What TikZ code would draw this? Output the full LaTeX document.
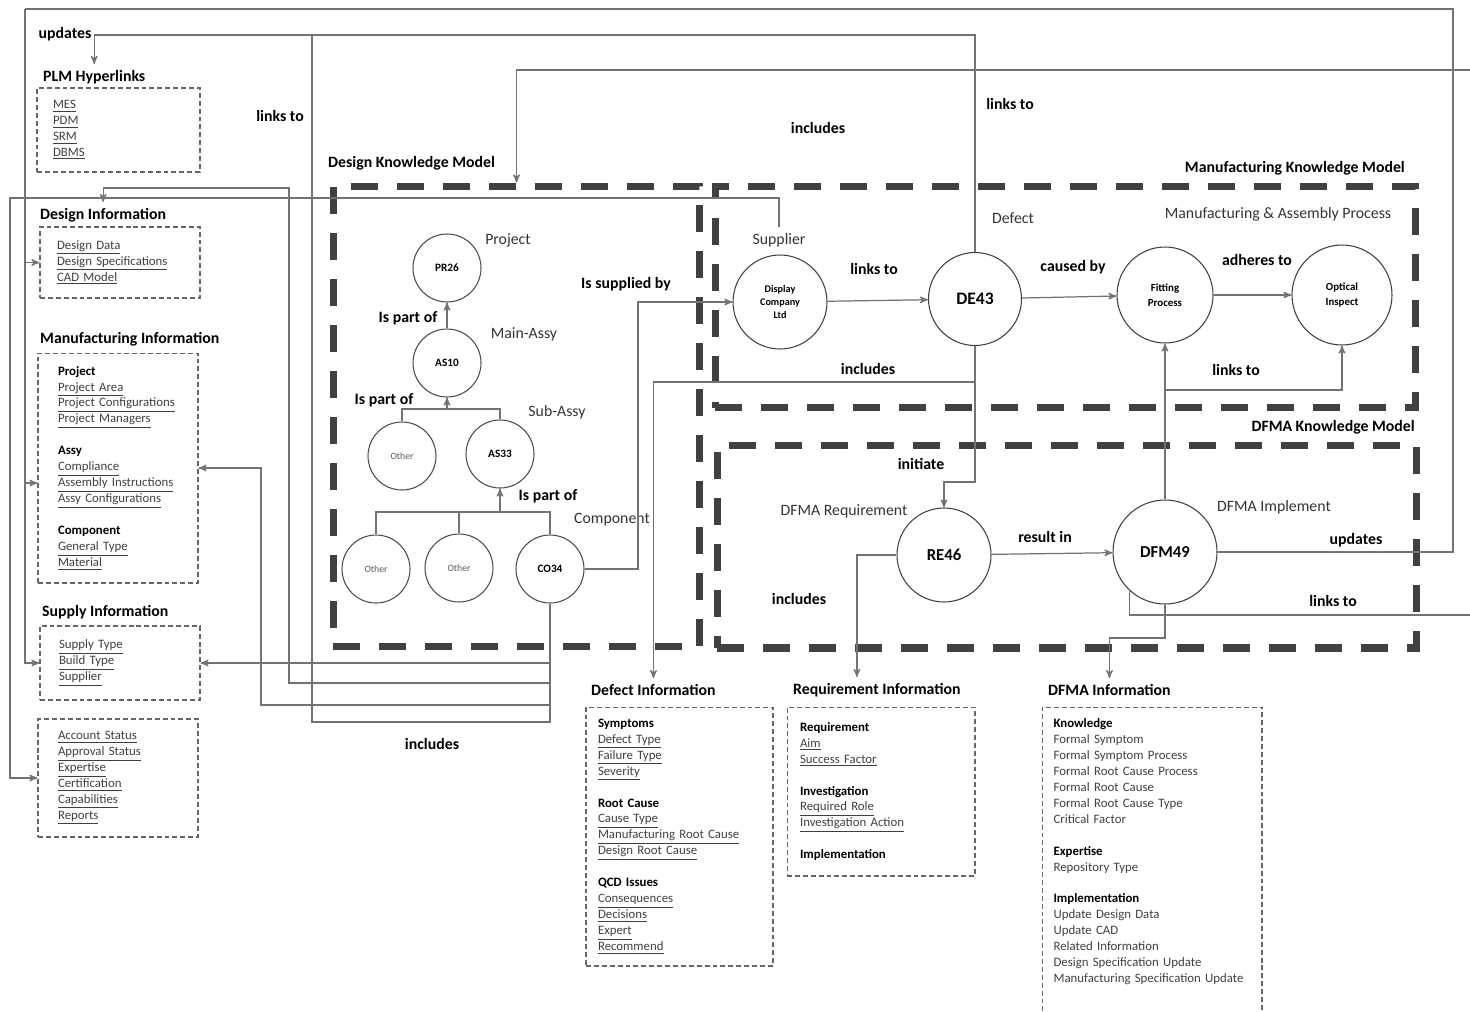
\documentclass[tikz,border=0pt]{standalone}
\usepackage{fontspec}
\setmainfont{Carlito}
\usetikzlibrary{arrows}

\newcommand{\lk}[1]{\underline{#1}}
\newcommand{\grp}[1]{\textcolor{black}{\textbf{#1}}}

\begin{document}
\begin{tikzpicture}[x=0.02cm,y=-0.02cm,>=stealth',
    link/.style={draw=black!55,line width=0.7pt},
    rel/.style={font=\fontsize{9}{11}\selectfont\bfseries},
    kind/.style={font=\fontsize{9}{11}\selectfont,text=black!80},
    hdr/.style={font=\fontsize{9}{11}\selectfont\bfseries},
    partc/.style={circle,draw=black!70,line width=0.6pt,inner sep=0pt,minimum size=1.36cm,font=\fontsize{6.4}{7}\selectfont\bfseries},
    othc/.style={partc,font=\fontsize{5.5}{7}\selectfont,text=black!65},
    proc/.style={circle,draw=black!75,line width=0.6pt,inner sep=0pt,align=center,minimum size=1.88cm},
    model/.style={draw=black!75,line width=4pt,dash pattern=on 0.54cm off 0.38cm,inner sep=0pt},
    info/.style={draw=black!60,line width=0.6pt,dash pattern=on 2.8pt off 1.7pt,align=left,inner ysep=0pt,
        font=\fontsize{7.3}{9.07}\selectfont,text=black!75}]

\useasboundingbox (0,0) rectangle (1470,1011);

% knowledge models
\node[model,minimum width=7.34cm,minimum height=9.22cm] (dkm) at (516.5,416.5) {};
\node[model,minimum width=14.02cm,minimum height=4.44cm] (mkm) at (1065.5,297) {};
\node[model,minimum width=14cm,minimum height=4.06cm] (dfkm) at (1067,546.5) {};
\node[hdr,anchor=west] (dkmt) at (322,163) {Design Knowledge Model};
\node[hdr,anchor=east] (mkmt) at (1411,168) {Manufacturing Knowledge Model};
\node[hdr,anchor=east] (dfkmt) at (1421,427) {DFMA Knowledge Model};

% product tree
\node[partc] (pr26) at (447,268) {PR26};
\node[partc] (as10) at (447,363) {AS10};
\node[othc] (oth1) at (402,456) {Other};
\node[partc] (as33) at (500,454) {AS33};
\node[othc] (oth2) at (376,569) {Other};
\node[othc] (oth3) at (459,568) {Other};
\node[partc] (co34) at (550,569) {CO34};

\node[kind] (kproj) at (508,240) {Project};
\node[kind] (kmain) at (524,334) {Main-Assy};
\node[kind] (ksub) at (557,412) {Sub-Assy};
\node[kind] (kcomp) at (612,520) {Component};

% manufacturing and dfma units
\node[proc,font=\fontsize{5.8}{7.5}\selectfont\bfseries] (disp) at (780,302) {Display\\Company\\Ltd};
\node[proc,minimum size=1.86cm,font=\fontsize{10}{12}\selectfont\bfseries] (de43) at (975,299) {DE43};
\node[proc,minimum size=1.92cm,font=\fontsize{6.2}{8.5}\selectfont\bfseries] (fit) at (1165,295) {Fitting\\Process};
\node[proc,minimum size=2cm,font=\fontsize{6.2}{8.5}\selectfont\bfseries] (opt) at (1342,295) {Optical\\Inspect};
\node[proc,font=\fontsize{9.5}{11}\selectfont\bfseries] (re46) at (944,555) {RE46};
\node[proc,minimum size=2.08cm,font=\fontsize{9.5}{11}\selectfont\bfseries] (dfm49) at (1165,552) {DFM49};

\node[kind] (ksup) at (779,240) {Supplier};
\node[kind] (kdef) at (1013,218) {Defect};
\node[kind] (kmap) at (1278,214) {Manufacturing \& Assembly Process};
\node[kind] (kreq) at (844,511) {DFMA Requirement};
\node[kind] (kimp) at (1274,507) {DFMA Implement};

% information boxes
\node[hdr,anchor=west] (plmt) at (37,77) {PLM Hyperlinks};
\node[info,text width=2.62cm,inner xsep=0.32cm,minimum height=1.68cm] (plm) at (118.5,130)
    {\lk{MES}\\\lk{PDM}\\\lk{SRM}\\\lk{DBMS}};

\node[hdr,anchor=west] (desint) at (34,215) {Design Information};
\node[info,text width=2.52cm,inner xsep=0.34cm,minimum height=1.42cm] (desinf) at (120,262.5)
    {\lk{Design Data}\\\lk{Design Specifications}\\\lk{CAD Model}};

\node[hdr,anchor=west] (mfgint) at (34,339) {Manufacturing Information};
\node[info,text width=2.4cm,inner xsep=0.4cm,minimum height=4.6cm] (mfginf) at (118,468)
    {\grp{Project}\\\lk{Project Area}\\\lk{Project Configurations}\\\lk{Project Managers}\\[9.07pt]
     \grp{Assy}\\\lk{Compliance}\\\lk{Assembly Instructions}\\\lk{Assy Configurations}\\[9.07pt]
     \grp{Component}\\\lk{General Type}\\\lk{Material}};

\node[hdr,anchor=west] (supint) at (36,612) {Supply Information};
\node[info,text width=2.44cm,inner xsep=0.38cm,minimum height=1.48cm] (supinf) at (120,663)
    {\lk{Supply Type}\\\lk{Build Type}\\\lk{Supplier}};

\node[info,text width=2.4cm,inner xsep=0.4cm,minimum height=2.36cm] (accinf) at (118,778)
    {\lk{Account Status}\\\lk{Approval Status}\\\lk{Expertise}\\\lk{Certification}\\\lk{Capabilities}\\\lk{Reports}};

\node[hdr,anchor=west] (definft) at (585,690) {Defect Information};
\node[info,text width=3.26cm,inner xsep=0.24cm,minimum height=5.18cm] (definf) at (679.5,836.5)
    {\grp{Symptoms}\\\lk{Defect Type}\\\lk{Failure Type}\\\lk{Severity}\\[9.07pt]
     \grp{Root Cause}\\\lk{Cause Type}\\\lk{Manufacturing Root Cause}\\\lk{Design Root Cause}\\[9.07pt]
     \grp{QCD Issues}\\\lk{Consequences}\\\lk{Decisions}\\\lk{Expert}\\\lk{Recommend}};

\node[hdr,anchor=west] (reqint) at (787,690) {Requirement Information};
\node[info,text width=3.24cm,inner xsep=0.26cm,minimum height=3.38cm] (reqinf) at (881,791.5)
    {\grp{Requirement}\\\lk{Aim}\\\lk{Success Factor}\\[9.07pt]
     \grp{Investigation}\\\lk{Required Role}\\\lk{Investigation Action}\\[9.07pt]
     \grp{Implementation}};

\node[hdr,anchor=west] (dfmint) at (1042,690) {DFMA Information};
\node[info,text width=3.94cm,inner xsep=0.23cm,minimum height=6.72cm] (dfminf) at (1152,875)
    {\grp{Knowledge}\\Formal Symptom\\\mbox{Formal Symptom Process}\\\mbox{Formal Root Cause Process}\\
     Formal Root Cause\\\mbox{Formal Root Cause Type}\\Critical Factor\\[9.07pt]
     \grp{Expertise}\\Repository Type\\[9.07pt]
     \grp{Implementation}\\Update Design Data\\Update CAD\\Related Information\\
     \mbox{Design Specification Update}\\\mbox{Manufacturing Specification Update}\\[16pt]\strut};

% bends and loose ends
\coordinate (ytop) at (0,35);
\coordinate (ydes) at (0,188);
\coordinate (yinc) at (0,382);
\coordinate (yjn) at (0,390);
\coordinate (yini) at (0,482);
\coordinate (ydf) at (0,638);
\coordinate (bar1) at (447,409);
\coordinate (bar2) at (500,512);
\coordinate (csup) at (638,302);
\coordinate (cplm) at (312,722);
\coordinate (cdes) at (289,683);
\coordinate (cmfg) at (261,705);
\coordinate (cacc) at (10,198);
\coordinate (cur) at (1453,9);
\coordinate (cul) at (25,9);
\coordinate (cout) at (1470,615);
\coordinate (cin) at (1470,70);

% tree links
\draw[link,->] (as10) -- (pr26);
\draw[link] (oth1.north) |- (bar1) -| (as33.north);
\draw[link,->] (bar1) -- (as10);
\draw[link] (oth2.north) |- (bar2) -| (co34.north);
\draw[link] (oth3.north) -- (oth3.north |- bar2);
\draw[link,->] (bar2) -- (as33);

% component links
\draw[link,->] (co34.east) -| (csup) -- (disp);
\draw[link,->] (co34.south) |- (supinf.east);
\draw[link,->] (co34.south) |- (cmfg) |- (mfginf.east);
\draw[link,->] (co34.south) |- (cdes) |- (desint.north |- ydes) -- (desint.north);
\draw[link] (co34.south) |- (cplm) -- (cplm |- ytop);

% long routes round the page
\draw[link,->] (de43.north) |- (plmt.north |- ytop) -- (plmt.north);
\draw[link,->] (ksup.north) |- (cacc) |- (accinf.west);
\draw[link] (dfm49.east) -| (cur) -- (cul);
\draw[link,->] (cul) |- (desinf.west);
\draw[link,->] (cul) |- ([yshift=-0.3cm]mfginf.west);
\draw[link,->] (cul) |- (supinf.west);
\draw[link] (dfm49.228) |- (cout);
\draw[link,->] (cin) -| (dkm.north);

% process chain
\path (disp) edge[link,->] (de43)
      (de43) edge[link,->] (fit)
      (fit)  edge[link,->] (opt)
      (re46) edge[link,->] (dfm49);
\draw[link,->] (de43.south) |- (definft.north |- yinc) -- (definft.north);
\draw[link,->] (de43.south) |- (re46.north |- yini) -- (re46.north);
\draw[link,->] (re46.west) -| ([xshift=-0.4cm]reqint.north);
\draw[link,->] (dfm49) -- (fit);
\draw[link,->] (fit.south |- yjn) -| (opt.south);
\draw[link,->] (dfm49.south) |- (dfmint.north |- ydf) -- (dfmint.north);

% relation labels
\node[rel] (rupd1) at (65,34) {updates};
\node[rel] (rlnk1) at (280,116) {links to};
\node[rel] (rinc1) at (818,128) {includes};
\node[rel] (rlnk2) at (1010,104) {links to};
\node[rel] (rsup) at (626,284) {Is supplied by};
\node[rel] (rlnk3) at (874,269) {links to};
\node[rel] (rcau) at (1073,267) {caused by};
\node[rel] (radh) at (1257,260) {adheres to};
\node[rel] (rinc2) at (868,369) {includes};
\node[rel] (rlnk4) at (1236,370) {links to};
\node[rel] (rini) at (921,464) {initiate};
\node[rel] (rres) at (1045,537) {result in};
\node[rel] (rinc3) at (799,599) {includes};
\node[rel] (rupd2) at (1356,540) {updates};
\node[rel] (rlnk5) at (1333,601) {links to};
\node[rel] (rpt1) at (408,318) {Is part of};
\node[rel] (rpt2) at (384,400) {Is part of};
\node[rel] (rpt3) at (548,496) {Is part of};
\node[rel] (rinc4) at (432,744) {includes};

\end{tikzpicture}
\end{document}
